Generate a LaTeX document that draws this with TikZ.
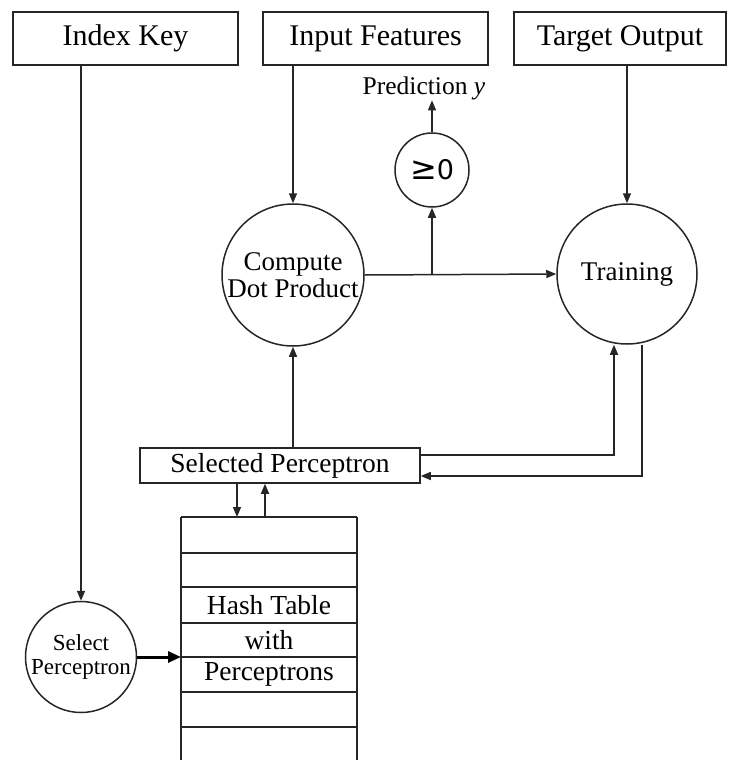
\documentclass[tikz,border=0pt]{standalone}
\usepackage{fontspec}
\setmainfont{Liberation Serif}
\newfontfamily\symfont{DejaVu Sans}
\usetikzlibrary{arrows.meta}

\begin{document}
\begin{tikzpicture}[x=1pt,y=-1pt,
  line width=1.5pt, draw=black!85,
  arr/.style={draw=black!85, -{Triangle[length=10pt,width=8pt]}},
  boldarr/.style={draw=black, line width=3pt, -{Triangle[length=13pt,width=11pt]}},
  topbox/.style={draw, rectangle, minimum height=53pt, inner sep=0pt,
    font=\fontsize{30}{30}\selectfont},
  bigcirc/.style={draw, circle, inner sep=0pt, align=center,
    font=\fontsize{27}{27}\selectfont},
  celltext/.style={inner sep=0pt, font=\fontsize{27.5}{27.5}\selectfont}]
\useasboundingbox (0,0) rectangle (730,760);

% input boxes along the top
\node[topbox, minimum width=225pt] (ik)  at (125.5,38.5) {Index Key};
\node[topbox, minimum width=225pt] (inf) at (375.5,38.5) {Input Features};
\node[topbox, minimum width=212pt] (tgt) at (620,38.5)   {Target Output};

% prediction stage
\node[inner sep=0pt, font=\fontsize{25.5}{25.5}\selectfont] (pred) at (424,88)
  {Prediction \textit{y}};
\node[draw, circle, minimum size=74pt, inner sep=0pt] (geq) at (432,170)
  {{\symfont\fontsize{32}{32}\selectfont ≥}{\symfont\fontsize{27}{27}\selectfont 0}};

% processing circles
\node[bigcirc, minimum size=142pt] (comp)  at (293,275) {Compute\\Dot Product};
\node[bigcirc, minimum size=140pt] (train) at (627,274) {Training};
\node[draw, circle, minimum size=111pt, inner sep=0pt, align=center,
  font=\fontsize{23}{24}\selectfont] (selp) at (81,657) {Select\\Perceptron};

% selected perceptron register
\node[draw, rectangle, minimum width=280pt, minimum height=35pt, inner sep=0pt,
  font=\fontsize{27.5}{27.5}\selectfont] (sel) at (280,465.5) {Selected Perceptron};

% hash table of perceptrons
\draw (181,517) -- (181,760) (357,517) -- (357,760);
\foreach \yy in {517,553,587,623,657,692,727} \draw (181,\yy) -- (357,\yy);
\node[celltext] (ht1) at (269,605)   {Hash Table};
\node[celltext] (ht2) at (269,640)   {with};
\node[celltext] (ht3) at (269,674.5) {Perceptrons};
\coordinate (tdown) at (237,517);
\coordinate (tup)   at (265,517);
\coordinate (tleft) at (181,657);
\coordinate (split) at (432,275);

% connectors
\draw[arr] (ik.south -| selp.north) -- (selp.north);
\draw[arr] (inf.south -| comp.north) -- (comp.north);
\draw[arr] (tgt.south -| train.north) -- (train.north);
\draw[arr] (comp.east) -- (train.west);
\draw[arr] (split) -- (geq.south);
\draw[arr] (geq.north) -- (geq.north |- pred.south);
\draw[arr] (comp.south |- sel.north) -- (comp.south);
\draw[arr] (sel.south -| tdown) -- (tdown);
\draw[arr] (tup) -- (sel.south -| tup);
\draw[arr] ([yshift=10.5pt]sel.east) -| ([xshift=-13pt]train.south);
\draw[arr] ([xshift=15pt]train.south) |- ([yshift=-10.5pt]sel.east);
\draw[boldarr] (selp.east) -- (tleft);
\end{tikzpicture}
\end{document}
